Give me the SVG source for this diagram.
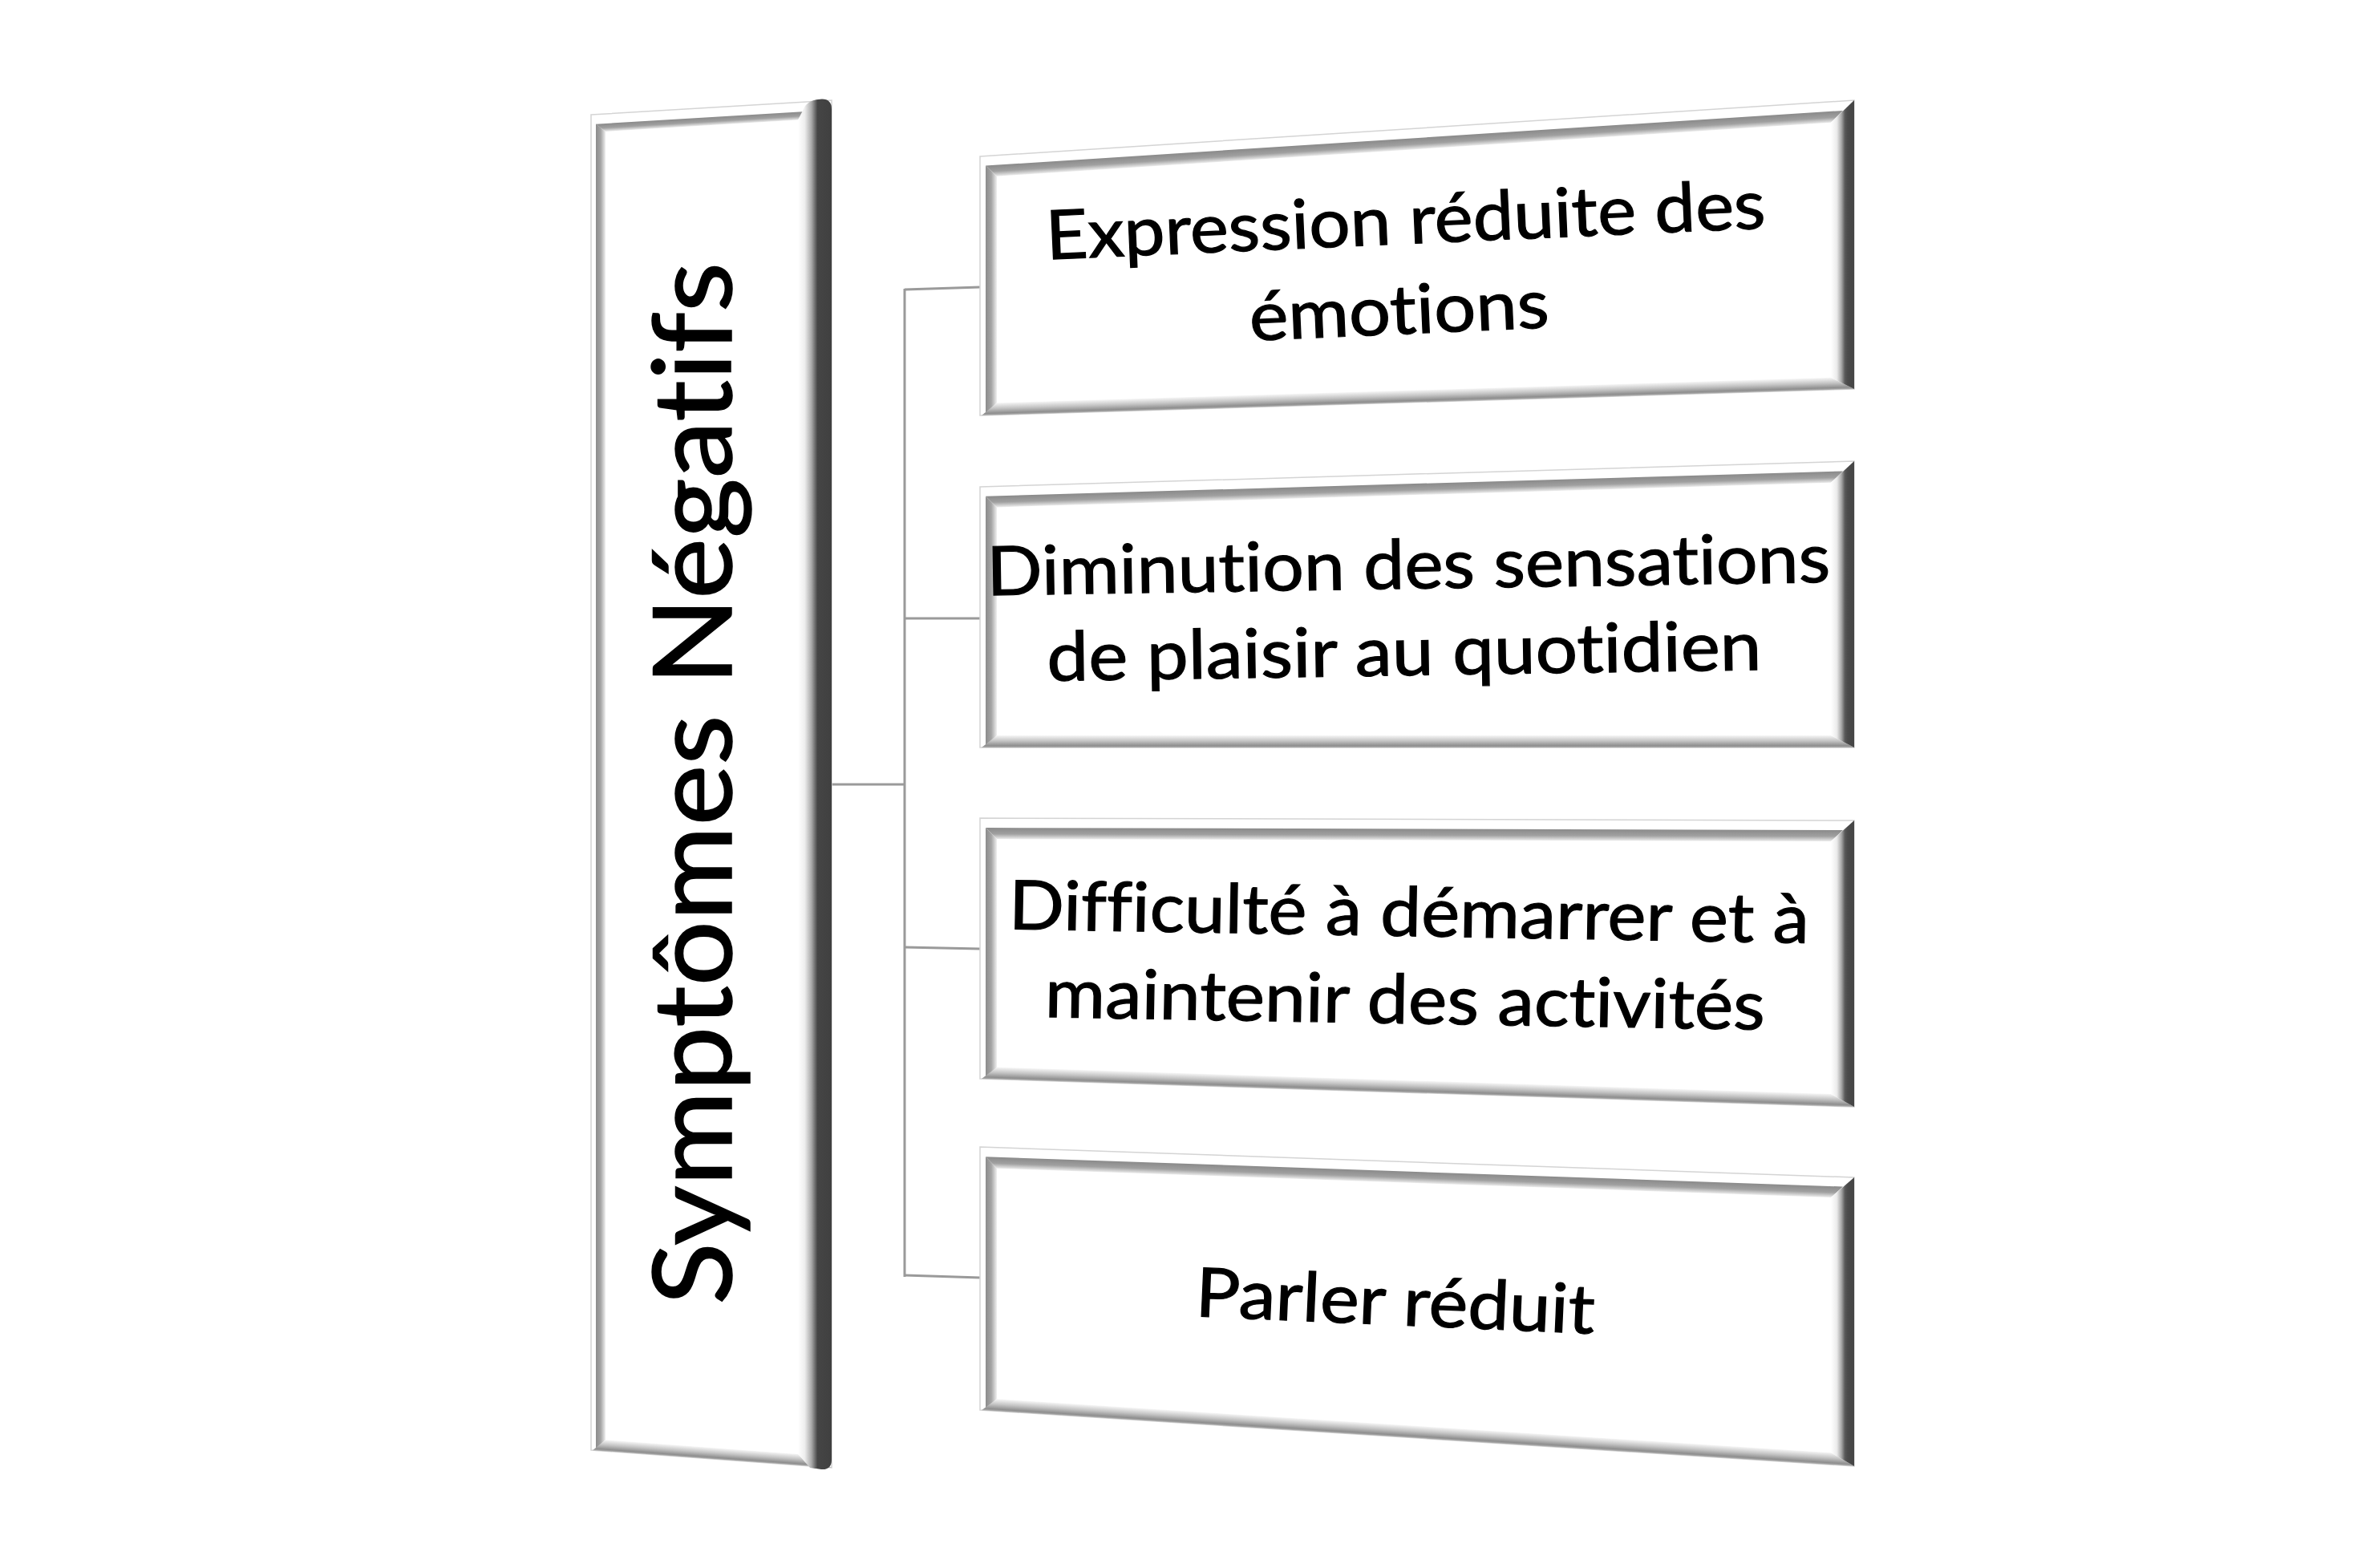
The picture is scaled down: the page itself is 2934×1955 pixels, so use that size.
<svg xmlns="http://www.w3.org/2000/svg" width="2934" height="1955" viewBox="0 0 2934 1955">
<defs>
<linearGradient id="gTop" x1="0" y1="0" x2="0" y2="1"><stop offset="0" stop-color="#8a8a8a"/><stop offset="0.55" stop-color="#a0a0a0"/><stop offset="1" stop-color="#ececec"/></linearGradient>
<linearGradient id="gLeft" x1="0" y1="0" x2="1" y2="0"><stop offset="0" stop-color="#8c8c8c"/><stop offset="0.5" stop-color="#a4a4a4"/><stop offset="1" stop-color="#f0f0f0"/></linearGradient>
<linearGradient id="gBot" x1="0" y1="0" x2="0" y2="1"><stop offset="0" stop-color="#f6f6f6"/><stop offset="0.45" stop-color="#c4c4c4"/><stop offset="0.85" stop-color="#8e8e8e"/><stop offset="1" stop-color="#b0b0b0"/></linearGradient>
<linearGradient id="gRight" x1="0" y1="0" x2="1" y2="0"><stop offset="0" stop-color="#ffffff"/><stop offset="0.25" stop-color="#ececec"/><stop offset="0.45" stop-color="#a8a8a8"/><stop offset="0.6" stop-color="#5a5a5a"/><stop offset="0.72" stop-color="#4a4a4a"/><stop offset="1" stop-color="#444444"/></linearGradient>
<linearGradient id="gRightL" x1="0" y1="0" x2="1" y2="0"><stop offset="0" stop-color="#ffffff"/><stop offset="0.2" stop-color="#eeeeee"/><stop offset="0.4" stop-color="#aaaaaa"/><stop offset="0.52" stop-color="#666666"/><stop offset="0.58" stop-color="#454545"/><stop offset="1" stop-color="#404040"/></linearGradient>
</defs>
<style>
.body{fill:#ffffff;stroke:#d4d4d4;stroke-width:1.5}
.top{fill:url(#gTop)}
.left{fill:url(#gLeft)}
.bot{fill:url(#gBot)}
.right{fill:url(#gRight)}
.conn{stroke:#9a9a9a;stroke-width:3;fill:none}
.lbl{font-family:Lato,"Liberation Sans",sans-serif;font-size:85px;fill:#000;stroke:#000;stroke-width:1.2;text-anchor:middle;font-variant-ligatures:none;font-feature-settings:"liga" 0,"clig" 0}
.main{font-family:Lato,"Liberation Sans",sans-serif;font-size:135px;fill:#000;stroke:#000;stroke-width:1.5;text-anchor:middle;font-variant-ligatures:none;font-feature-settings:"liga" 0,"clig" 0}
</style>
<rect width="2934" height="1955" fill="#ffffff"/>

<g id="connectors">
<line class="conn" x1="1035" y1="978" x2="1128" y2="978"/>
<line class="conn" x1="1128" y1="360" x2="1128" y2="1592"/>
<line class="conn" x1="1128" y1="361" x2="1222" y2="358"/>
<line class="conn" x1="1128" y1="771" x2="1222" y2="771"/>
<line class="conn" x1="1128" y1="1181" x2="1222" y2="1183"/>
<line class="conn" x1="1128" y1="1590" x2="1222" y2="1593"/>
</g>

<g id="node-main">
<polygon class="body" points="737,143 1037,125 1037,1830 737,1808"/>
<polygon class="top" points="743,155 1005,155 995,165 755,165" transform="matrix(1 -0.06 0 1 0 44.22)"/>
<polygon class="left" points="743,154.6 755,163.9 755,1795.3 743,1806.4"/>
<polygon class="bot" points="739,1808 1037,1808 995,1794 755,1794" transform="matrix(1 0.07333 0 1 0 -54.05)"/>
<path fill="url(#gRightL)" d="M995,149.5 L1004,132 Q1010,124.5 1020,124 L1025,123.5 Q1037,123.5 1037,136 L1037,1820 Q1037,1833 1024,1832 L1010,1830 L995,1812.9 Z"/>
<text class="main" transform="translate(912,977) rotate(-90)" x="0" y="0" textLength="1300" lengthAdjust="spacingAndGlyphs">Symptômes Négatifs</text>
</g>

<g id="node-1">
<polygon class="body" points="1222,195 2312,125 2312,485 1222,518"/>
<polygon class="top" points="1229,207 2298,207 2283,221 1243,221" transform="matrix(1 -0.06422 0 1 0 78.48)"/>
<polygon class="left" points="1229,206.55 1243,219.65 1243,502.36 1229,515.79"/>
<polygon class="bot" points="1224,518 2312,518 2283,503 1243,503" transform="matrix(1 -0.03028 0 1 0 37.00)"/>
<polygon class="right" points="2283,152.86 2312,125 2312,485 2283,470.87"/>
<g transform="rotate(-2.5 1755 331)">
<text class="lbl" x="1755" y="304" textLength="898" lengthAdjust="spacingAndGlyphs">Expression réduite des</text>
<text class="lbl" x="1742" y="416" textLength="374" lengthAdjust="spacingAndGlyphs">émotions</text>
</g>
</g>

<g id="node-2">
<polygon class="body" points="1222,607 2312,575 2312,932 1222,932"/>
<polygon class="top" points="1229,619 2298,619 2283,633 1243,633" transform="matrix(1 -0.02936 0 1 0 35.88)"/>
<polygon class="left" points="1229,618.79 1243,632.38 1243,917 1229,930"/>
<polygon class="bot" points="1224,932 2312,932 2283,917 1243,917"/>
<polygon class="right" points="2283,601.85 2312,575 2312,932 2283,917"/>
<g transform="rotate(-0.9 1755 761)">
<text class="lbl" x="1757" y="734" textLength="1052" lengthAdjust="spacingAndGlyphs">Diminution des sensations</text>
<text class="lbl" x="1750" y="842" textLength="891" lengthAdjust="spacingAndGlyphs">de plaisir au quotidien</text>
</g>
</g>

<g id="node-3">
<polygon class="body" points="1222,1020 2312,1023 2312,1380 1222,1345"/>
<polygon class="top" points="1229,1032 2298,1032 2283,1046 1243,1046" transform="matrix(1 0.00275 0 1 0 -3.36)"/>
<polygon class="left" points="1229,1032.02 1243,1046.06 1243,1330.67 1229,1343.22"/>
<polygon class="bot" points="1224,1345 2312,1345 2283,1330 1243,1330" transform="matrix(1 0.03211 0 1 0 -39.24)"/>
<polygon class="right" points="2283,1048.92 2312,1023 2312,1380 2283,1364.07"/>
<g transform="rotate(1 1755 1192)">
<text class="lbl" x="1756" y="1167" textLength="998" lengthAdjust="spacingAndGlyphs">Difficulté à démarrer et à</text>
<text class="lbl" x="1753" y="1276" textLength="898" lengthAdjust="spacingAndGlyphs">maintenir des activités</text>
</g>
</g>

<g id="node-4">
<polygon class="body" points="1222,1430 2312,1468 2312,1828 1222,1758"/>
<polygon class="top" points="1229,1442 2298,1442 2283,1456 1243,1456" transform="matrix(1 0.03486 0 1 0 -42.60)"/>
<polygon class="left" points="1229,1442.24 1243,1456.73 1243,1744.35 1229,1756.45"/>
<polygon class="bot" points="1224,1758 2312,1758 2283,1743 1243,1743" transform="matrix(1 0.06422 0 1 0 -78.48)"/>
<polygon class="right" points="2283,1492.99 2312,1468 2312,1828 2283,1811.14"/>
<g transform="rotate(2.5 1740 1620)">
<text class="lbl" x="1740" y="1652" textLength="498" lengthAdjust="spacingAndGlyphs">Parler réduit</text>
</g>
</g>
</svg>
